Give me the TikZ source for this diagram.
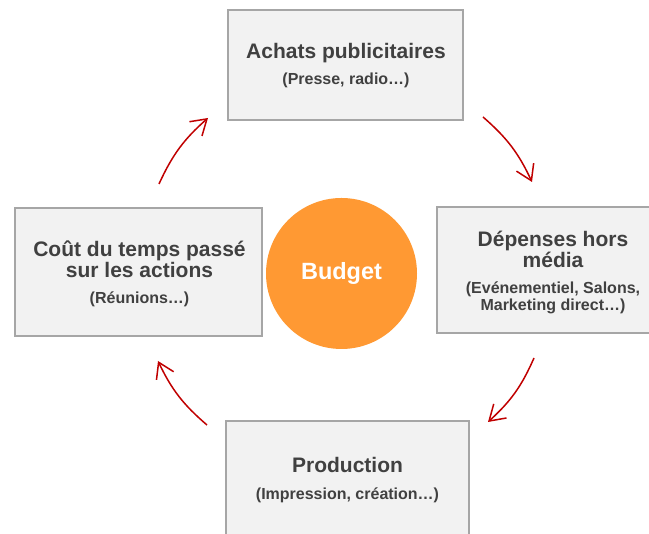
\documentclass[tikz,border=0pt]{standalone}
\usepackage{fontspec}
\setmainfont{Liberation Sans}
\usetikzlibrary{arrows.meta}
\definecolor{boxfill}{HTML}{F2F2F2}
\definecolor{boxline}{HTML}{A6A6A6}
\definecolor{txt}{HTML}{404040}
\definecolor{budget}{HTML}{FF9933}
\definecolor{cycle}{HTML}{C00000}
\tikzset{
  card/.style={draw=boxline, line width=1.3pt, fill=boxfill, rectangle, inner sep=0pt},
  title/.style={anchor=base, text=txt, font=\fontsize{21}{21}\selectfont\bfseries, inner sep=0pt},
  sub/.style={anchor=base, text=txt, font=\fontsize{16}{17}\selectfont\bfseries, inner sep=0pt},
  flow/.style={draw=cycle, line width=1.5pt, -{Straight Barb[length=15pt,width=19pt,line width=1.5pt]}}
}
\begin{document}
\begin{tikzpicture}[x=1pt,y=1pt]
  \useasboundingbox (0,0) rectangle (649,534);
  \clip (0,0) rectangle (649,534);

  % boxes around the budget
  \node[card, minimum width=235pt, minimum height=110pt] (achats) at (345.5,469) {};
  \node[card, minimum width=235pt, minimum height=126pt] (hors) at (554.5,264) {};
  \node[card, minimum width=247pt, minimum height=128pt] (temps) at (138.5,262) {};
  \node[card, minimum width=243pt, minimum height=126pt] (prod) at (347.5,50) {};

  % central disc
  \node[circle, fill=budget, minimum size=151pt, inner sep=0pt,
        text=white, font=\fontsize{23.5}{24}\selectfont\bfseries] (budget) at (341.5,260.5) {Budget};

  % labels
  \node[title] (achats-t) at (346,475) {Achats publicitaires};
  \node[sub]   (achats-s) at (346,449) {(Presse, radio…)};

  \node[title] (hors-t1) at (553,287.3) {Dépenses hors};
  \node[title] (hors-t2) at (553,266.7) {média};
  \node[sub]   (hors-s1) at (553,240.7) {(Evénementiel, Salons,};
  \node[sub]   (hors-s2) at (553,223.3) {Marketing direct…)};

  \node[title] (temps-t1) at (139.5,277) {Coût du temps passé};
  \node[title] (temps-t2) at (139.5,256) {sur les actions};
  \node[sub]   (temps-s)  at (139.5,230) {(Réunions…)};

  \node[title] (prod-t) at (347.5,61) {Production};
  \node[sub]   (prod-s) at (347.5,34) {(Impression, création…)};

  % cycle arrows
  \coordinate (a1) at (483,417);  \coordinate (b1) at (532,352);
  \coordinate (a2) at (534,176);  \coordinate (b2) at (488,112);
  \coordinate (a3) at (207,109);  \coordinate (b3) at (158,173);
  \coordinate (a4) at (159,350);  \coordinate (b4) at (208,416);
  \draw[flow] (a1) to[bend left=12] (b1);
  \draw[flow] (a2) to[bend left=12] (b2);
  \draw[flow] (a3) to[bend left=12] (b3);
  \draw[flow] (a4) to[bend left=12] (b4);
\end{tikzpicture}
\end{document}
